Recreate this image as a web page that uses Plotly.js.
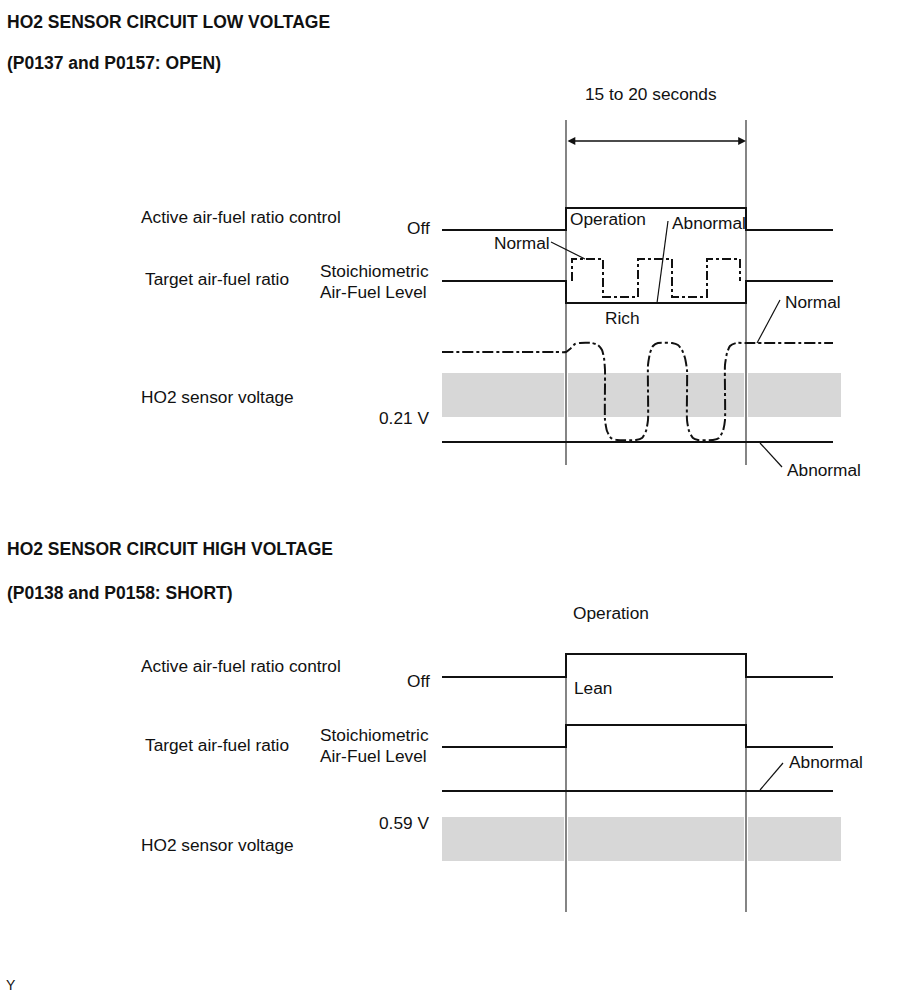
<!DOCTYPE html>
<html>
<head>
<meta charset="utf-8">
<script src="https://cdn.plot.ly/plotly-3.0.1.min.js"></script>
<style>html,body{margin:0;padding:0;background:#fff;}#chart{width:907px;height:995px;}</style>
</head>
<body>
<div id="chart"></div>
<script>
// ---------- DATA (diagram units: x = time position, y = signal level position) ----------
// shared time marks: trace start, operation start, operation end, trace end, band end
const tStart = 442, tOn = 566, tOff = 746, tEnd = 833, tBandEnd = 841;

// ===== Low-voltage (OPEN) diagram =====
const lowMarkerTop = 120, lowMarkerBottom = 465;
const lowArrowLevel = 141;
const lowActiveX = [tStart, tOn, tOn, tOff, tOff, tEnd];
const lowActiveY = [230, 230, 208, 208, 230, 230];
const lowTargetAbnX = [tStart, tOn, tOn, tOff, tOff, tEnd];
const lowTargetAbnY = [281, 281, 303, 303, 281, 281];
const lowTargetNormX = [572, 572, 603, 603, 638, 638, 672, 672, 707, 707, 740, 740];
const lowTargetNormY = [281, 259, 259, 297, 297, 259, 259, 297, 297, 259, 259, 281];
const lowSensorNormX = [442, 555, 566, 570, 575, 580, 592, 598, 602, 604, 605, 605, 607, 611, 617, 636, 642, 646, 648, 648, 650, 653, 658, 672, 678, 682, 685, 687, 687, 689, 693, 698, 713, 719, 723, 725, 725, 727, 730, 736, 746, 833];
const lowSensorNormY = [352, 352, 352, 349, 344, 343, 343, 345, 350, 358, 370, 420, 431, 438, 440, 440, 438, 431, 420, 365, 353, 346, 343, 343, 345, 350, 358, 370, 420, 431, 438, 440, 440, 438, 431, 420, 365, 353, 346, 343, 343, 343];
const lowSensorAbnX = [tStart, tEnd];
const lowSensorAbnY = [442, 442];
const lowBandY = [373, 417];
const lowLeaderX = [551, 585, null, 668, 657, null, 780, 757, null, 760, 782];
const lowLeaderY = [242, 259, null, 221, 303, null, 300, 343, null, 443, 467];

// ===== High-voltage (SHORT) diagram =====
const highMarkerTop = 654, highMarkerBottom = 912;
const highActiveX = [tStart, tOn, tOn, tOff, tOff, tEnd];
const highActiveY = [677, 677, 654, 654, 677, 677];
const highTargetX = [tStart, tOn, tOn, tOff, tOff, tEnd];
const highTargetY = [747, 747, 725, 725, 747, 747];
const highSensorAbnX = [tStart, tEnd];
const highSensorAbnY = [791, 791];
const highBandY = [817, 861];
const highLeaderX = [760, 783];
const highLeaderY = [790, 763];

// ---------- TEXT ----------
const titles = [
  ['HO2 SENSOR CIRCUIT LOW VOLTAGE', 5, 22],
  ['(P0137 and P0157: OPEN)', 5, 63],
  ['HO2 SENSOR CIRCUIT HIGH VOLTAGE', 5, 549],
  ['(P0138 and P0158: SHORT)', 5, 593]
];
const labelsLeft = [
  ['Active air-fuel ratio control', 139, 217],
  ['Target air-fuel ratio', 143, 279],
  ['Stoichiometric', 318, 271],
  ['Air-Fuel Level', 318, 292],
  ['HO2 sensor voltage', 139, 397],
  ['Operation', 568, 219],
  ['Abnormal', 670, 223],
  ['Normal', 492, 243],
  ['Rich', 603, 318],
  ['Normal', 783, 302],
  ['Abnormal', 785, 470],
  ['Active air-fuel ratio control', 139, 666],
  ['Target air-fuel ratio', 143, 745],
  ['Stoichiometric', 318, 735],
  ['Air-Fuel Level', 318, 756],
  ['HO2 sensor voltage', 139, 845],
  ['Lean', 572, 688],
  ['Abnormal', 787, 762]
];
const labelsRight = [
  ['Off', 432, 228],
  ['0.21 V', 431, 418],
  ['Off', 432, 681],
  ['0.59 V', 431, 823]
];
const labelsCenter = [
  ['15 to 20 seconds', 651, 94],
  ['Operation', 611, 613]
];

// ---------- BUILD ----------
const FONT = 'Liberation Sans, Arial, Helvetica, sans-serif';
const BLACK = '#111111';
const BAND = '#d7d7d7';

function line(x, y, w, dash, shape) {
  return {type: 'scatter', mode: 'lines', x: x, y: y, hoverinfo: 'skip', showlegend: false,
    line: {color: BLACK, width: w, dash: dash || 'solid', shape: shape || 'linear', smoothing: 0.5},
    connectgaps: false};
}
function band(yr) {
  return {type: 'scatter', mode: 'lines', x: [tStart, tBandEnd, tBandEnd, tStart, tStart],
    y: [yr[0], yr[0], yr[1], yr[1], yr[0]], fill: 'toself', fillcolor: BAND,
    line: {width: 0, color: BAND}, hoverinfo: 'skip', showlegend: false};
}
function markers(top, bottom, color, w) {
  return {type: 'scatter', mode: 'lines', x: [tOn, tOn, null, tOff, tOff], y: [top, bottom, null, top, bottom],
    line: {color: color, width: w}, hoverinfo: 'skip', showlegend: false, connectgaps: false};
}

const traces = [
  band(lowBandY),
  band(highBandY),
  markers(lowBandY[0], lowBandY[1], '#ffffff', 4),
  markers(highBandY[0], highBandY[1], '#ffffff', 4),
  markers(lowMarkerTop, lowMarkerBottom, '#333333', 1.2),
  markers(highMarkerTop, highMarkerBottom, '#333333', 1.2),
  line(lowActiveX, lowActiveY, 2),
  line(lowTargetAbnX, lowTargetAbnY, 2),
  line(lowTargetNormX, lowTargetNormY, 2, '9px,3px,3px,3px'),
  line(lowSensorNormX, lowSensorNormY, 2, '11px,3px,3px,3px', 'spline'),
  line(lowSensorAbnX, lowSensorAbnY, 2),
  line(lowLeaderX, lowLeaderY, 1.2),
  line(highActiveX, highActiveY, 2),
  line(highTargetX, highTargetY, 2),
  line(highSensorAbnX, highSensorAbnY, 2),
  line(highLeaderX, highLeaderY, 1.2)
];

const ann = [];
titles.forEach(t => ann.push({text: t[0], x: t[1], y: t[2], xanchor: 'left', yanchor: 'middle', showarrow: false,
  font: {family: FONT, size: 17.5, color: BLACK, weight: 'bold'}}));
labelsLeft.forEach(t => ann.push({text: t[0], x: t[1], y: t[2], xanchor: 'left', yanchor: 'middle', showarrow: false,
  font: {family: FONT, size: 17.3, color: BLACK}}));
labelsRight.forEach(t => ann.push({text: t[0], x: t[1], y: t[2], xanchor: 'right', yanchor: 'middle', showarrow: false,
  font: {family: FONT, size: 17.3, color: BLACK}}));
labelsCenter.forEach(t => ann.push({text: t[0], x: t[1], y: t[2], xanchor: 'center', yanchor: 'middle', showarrow: false,
  font: {family: FONT, size: 17.3, color: BLACK}}));
ann.push({text: 'Y', x: 4, y: 985, xanchor: 'left', yanchor: 'middle', showarrow: false,
  font: {family: FONT, size: 14, color: BLACK}});
// duration arrow (double headed)
ann.push({text: '', x: tOff, y: lowArrowLevel, ax: tOn, ay: lowArrowLevel, xref: 'x', yref: 'y', axref: 'x', ayref: 'y',
  showarrow: true, arrowhead: 2, startarrowhead: 2, arrowside: 'end+start', arrowsize: 1.2, startarrowsize: 1.2, arrowwidth: 1.3,
  arrowcolor: BLACK, standoff: 0, startstandoff: 0});

const layout = {
  width: 907, height: 995,
  margin: {l: 0, r: 0, t: 0, b: 0, pad: 0},
  paper_bgcolor: '#ffffff', plot_bgcolor: '#ffffff',
  xaxis: {range: [0, 907], visible: false, fixedrange: true},
  yaxis: {range: [995, 0], visible: false, fixedrange: true},
  annotations: ann,
  showlegend: false
};
Plotly.newPlot('chart', traces, layout, {staticPlot: true, displayModeBar: false});
</script>
</body>
</html>
